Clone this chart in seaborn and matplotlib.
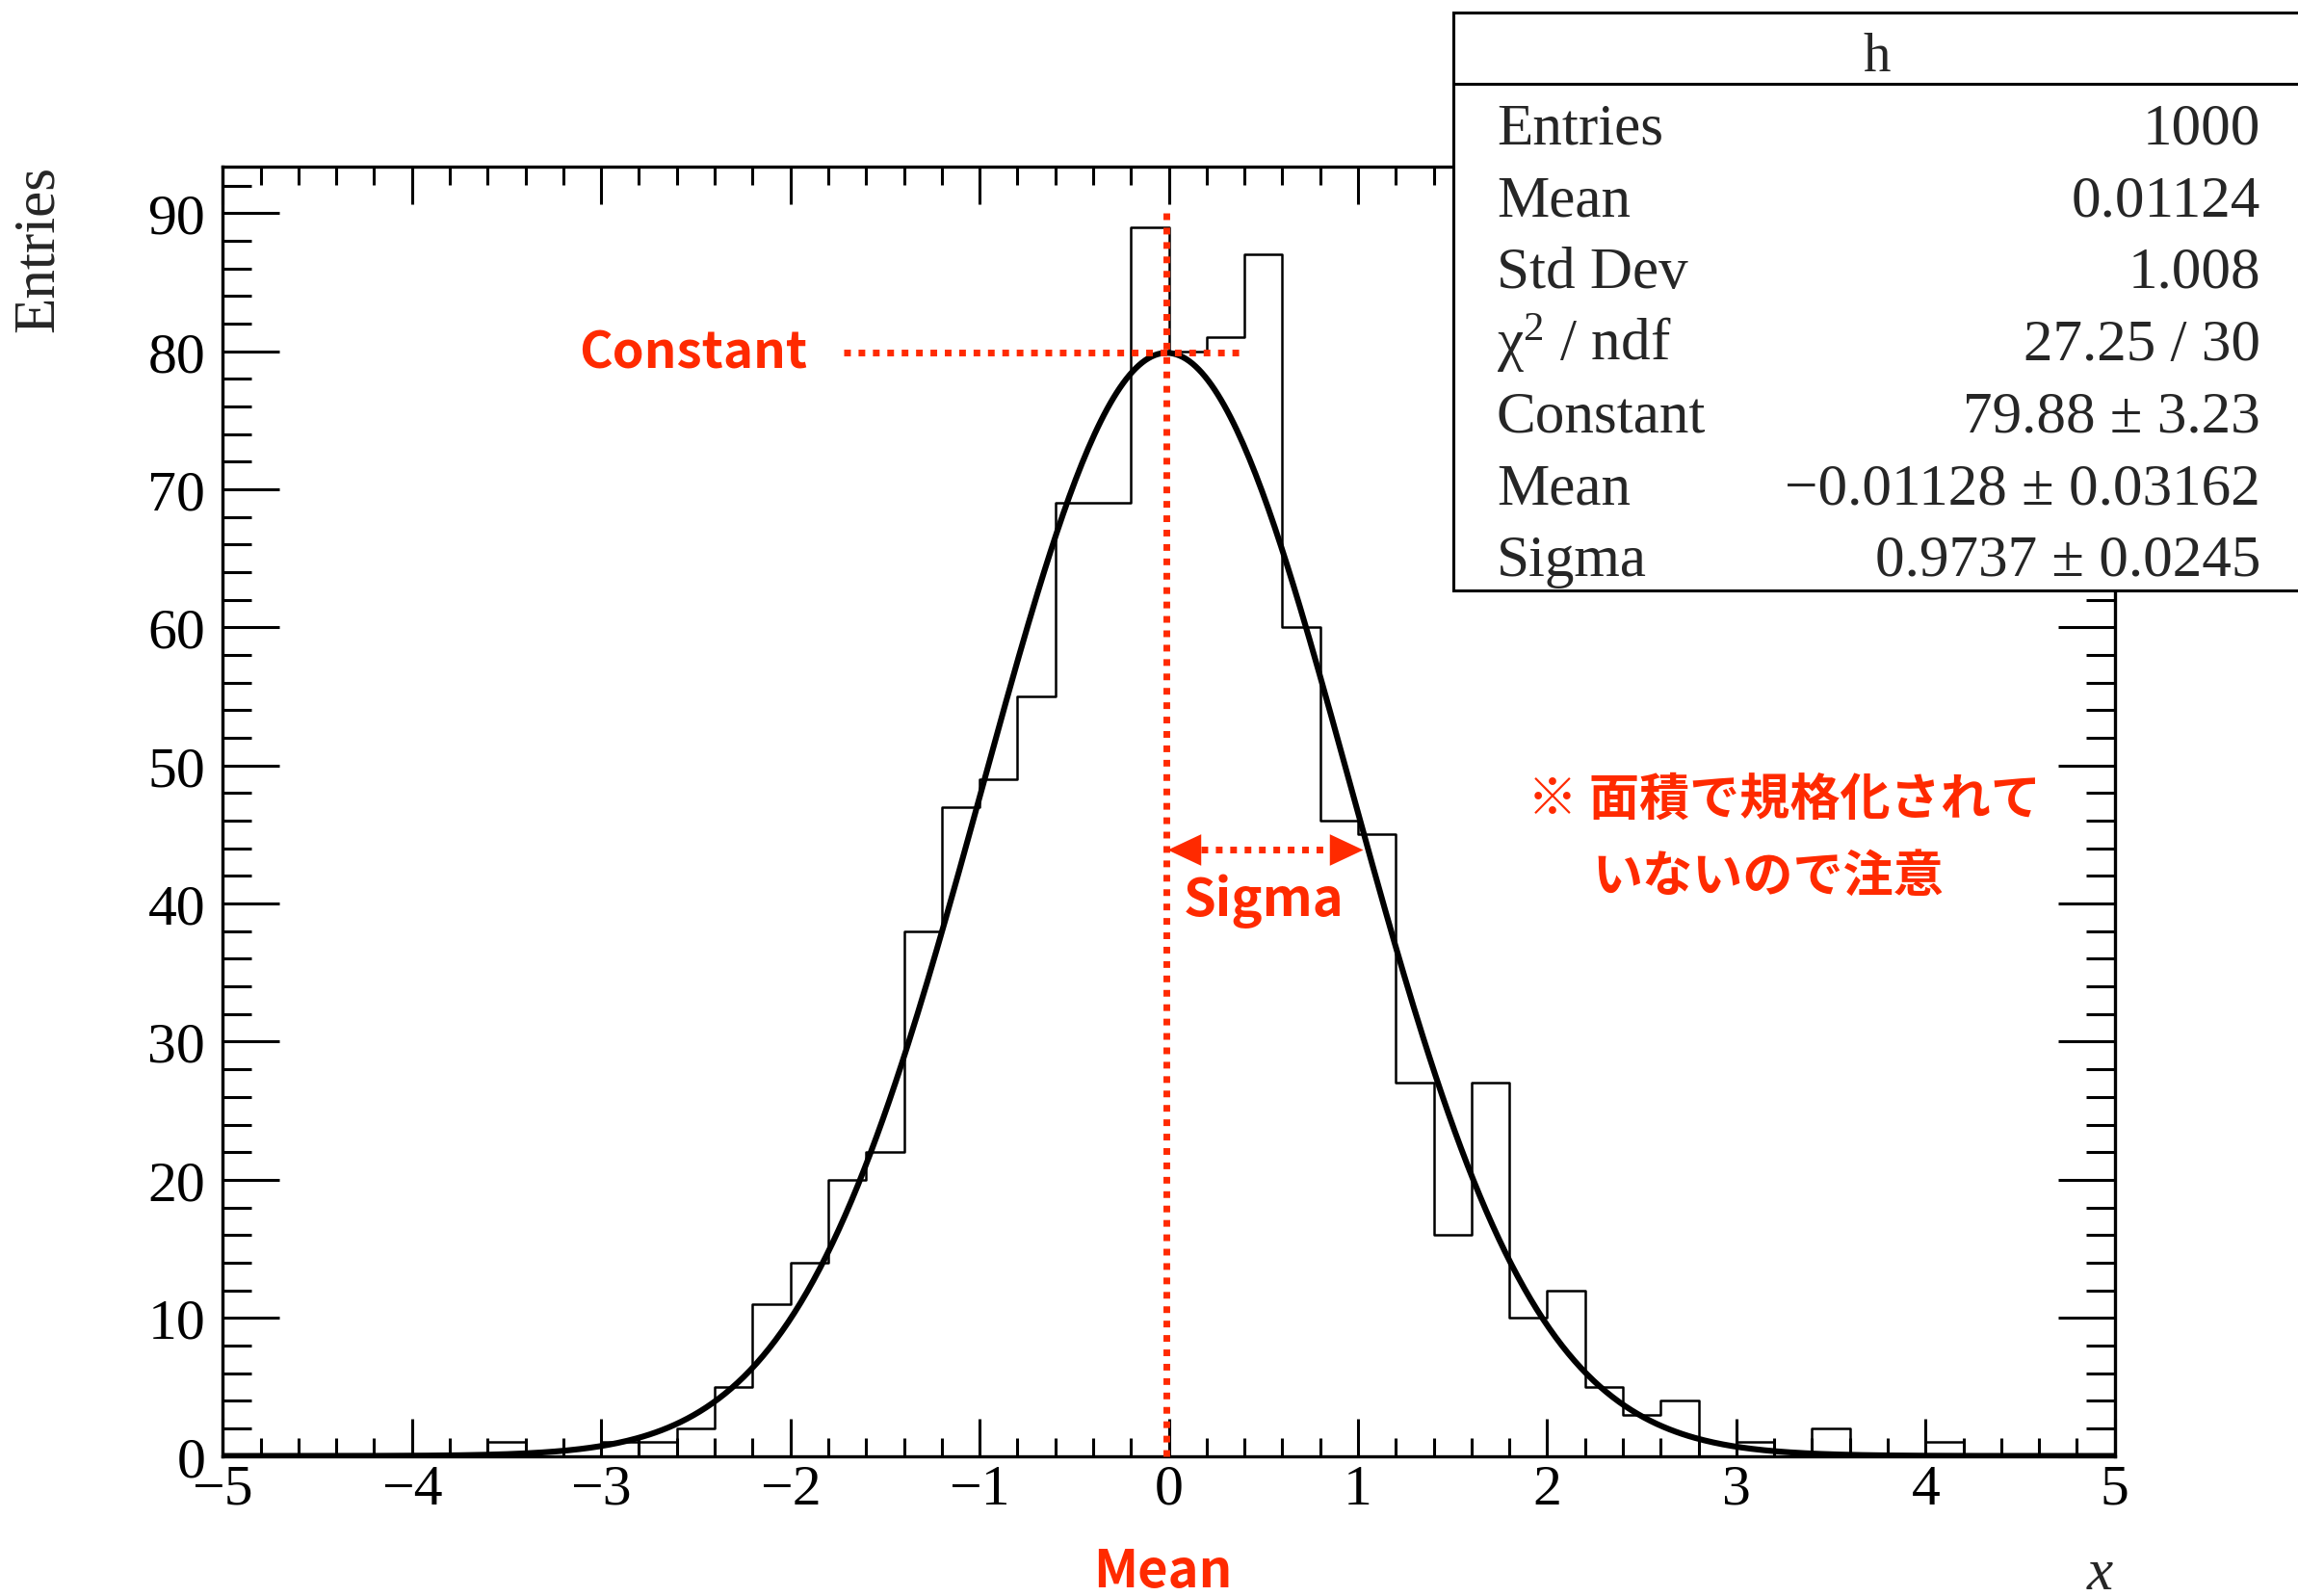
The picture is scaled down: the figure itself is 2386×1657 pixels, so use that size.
import numpy as np
import pandas as pd
import matplotlib
matplotlib.use("Agg")
import matplotlib.pyplot as plt
import seaborn as sns
from matplotlib.patches import Rectangle
from matplotlib.path import Path
from matplotlib.ticker import MultipleLocator

# ---- histogram contents (50 bins of width 0.2 on [-5, 5]) ----
bin_edges = [round(-5.0 + 0.2 * i, 1) for i in range(51)]
bin_counts = [0, 0, 0, 0, 0, 0, 0,      # -5.0 .. -3.8
              1, 0, 0, 1, 1, 2, 5,      # -3.6 .. -2.4
              11, 14, 20, 22, 38, 47, 49,  # -2.2 .. -1.0
              55, 69, 69, 89, 80, 81, 87,  # -0.8 .. 0.4
              60, 46, 45, 27, 16, 27, 10,  # 0.6 .. 1.8
              12, 5, 3, 4, 0, 1, 0,     # 2.0 .. 3.2
              2, 0, 0, 1, 0, 0, 0, 0]   # 3.4 .. 4.8

# ---- gaussian fit result ----
fit_constant = 79.88
fit_mean = -0.01128
fit_sigma = 0.9737

# ---- statistics box ----
box_title = "h"
stat_names = ["Entries", "Mean", "Std Dev", "χ$^{2}$ / ndf", "Constant", "Mean", "Sigma"]
stat_values = ["1000", "0.01124", "1.008", "27.25 / 30",
               "79.88 ± 3.23", "\u22120.01128 ± 0.03162", "0.9737 ± 0.0245"]

x_ticks = list(range(-5, 6))
y_ticks = list(range(0, 91, 10))

RED = "#ff2a00"
SERIF = "Liberation Serif"
JP = "Noto Sans CJK JP"

sns.set_theme(style="ticks")
plt.rcParams["font.family"] = [SERIF, "DejaVu Serif"]
plt.rcParams["axes.unicode_minus"] = True
plt.rcParams["mathtext.fontset"] = "custom"
plt.rcParams["mathtext.rm"] = SERIF
plt.rcParams["mathtext.it"] = SERIF + ":italic"
plt.rcParams["mathtext.bf"] = SERIF + ":bold"

W, H, DPI = 2386, 1658, 100
fig = plt.figure(figsize=(W / DPI, H / DPI), dpi=DPI, facecolor="white")
ax = fig.add_axes([0.09694, 0.08770, 0.82334, 0.80765])
ax.set_facecolor("white")

edges = np.array(bin_edges)
centers = (edges[:-1] + edges[1:]) / 2
hist_df = pd.DataFrame({"x": centers, "n": np.array(bin_counts, dtype=float)})
sns.histplot(data=hist_df, x="x", weights="n", bins=bin_edges, element="step",
             fill=False, color="black", linewidth=1.8, ax=ax)

xs = np.linspace(-5, 5, 600)
fit_df = pd.DataFrame({"x": xs,
                       "y": fit_constant * np.exp(-0.5 * ((xs - fit_mean) / fit_sigma) ** 2)})
sns.lineplot(data=fit_df, x="x", y="y", color="black", linewidth=4.4, ax=ax,
             zorder=4, sort=False)

ax.set_xlim(-5, 5)
ax.set_ylim(0, 93.4)
ax.set_xlabel("")
ax.set_ylabel("")

# axis frame and ticks
for s in ax.spines.values():
    s.set_linewidth(2.4)
    s.set_color("black")
ax.xaxis.set_major_locator(MultipleLocator(1))
ax.xaxis.set_minor_locator(MultipleLocator(0.2))
ax.yaxis.set_major_locator(MultipleLocator(10))
ax.yaxis.set_minor_locator(MultipleLocator(2))
ax.set_xticks(x_ticks)
ax.set_yticks(y_ticks)
ax.tick_params(which="both", direction="in", top=True, right=True,
               color="black", width=2.2, labelsize=43, labelcolor="black")
ax.tick_params(axis="x", which="major", length=28, pad=6)
ax.tick_params(axis="x", which="minor", length=14)
ax.tick_params(axis="y", which="major", length=42.5, pad=13)
ax.tick_params(axis="y", which="minor", length=21.6)
for lab in ax.get_xticklabels() + ax.get_yticklabels():
    lab.set_fontfamily(SERIF)

# axis titles
fig.text(40 / W, 1 - 172 / H, "Entries", rotation=90, ha="center", va="top",
         fontsize=44, family=SERIF)
ax.text(4.99, -9.6, "x", ha="right", va="baseline", fontsize=44,
        family=SERIF, style="italic", clip_on=False)

# red annotations: mean line, constant line, sigma arrow
dot = dict(color=RED, linewidth=5.0, linestyle=(0, (1, 1.15)),
           dash_capstyle="butt", zorder=6, clip_on=False)
ax.plot([fit_mean, fit_mean], [0, 90.3], **dot)
ax.plot([-1.72, 0.41], [fit_constant, fit_constant], **dot)

arrow_y = 43.9
arrow_x0, arrow_x1 = -0.01, 1.025
head_len = 0.178
ax.plot([arrow_x0 + head_len, arrow_x1 - head_len], [arrow_y, arrow_y], **dot)
left_head = Path([(0, 0), (1, 0.47), (1, -0.47), (0, 0)],
                 [Path.MOVETO, Path.LINETO, Path.LINETO, Path.CLOSEPOLY])
right_head = Path([(0, 0), (-1, 0.47), (-1, -0.47), (0, 0)],
                  [Path.MOVETO, Path.LINETO, Path.LINETO, Path.CLOSEPOLY])
ax.plot([arrow_x0], [arrow_y], marker=left_head, markersize=50, color=RED,
        markeredgewidth=0, linestyle="none", zorder=7)
ax.plot([arrow_x1], [arrow_y], marker=right_head, markersize=50, color=RED,
        markeredgewidth=0, linestyle="none", zorder=7)

red_txt = dict(color=RED, family=[JP, "DejaVu Sans"], fontweight="bold", clip_on=False, zorder=8)
ax.text(-1.912, 78.8, "Constant", ha="right", va="baseline", fontsize=38, **red_txt)
ax.text(0.50, 39.2, "Sigma", ha="center", va="baseline", fontsize=39, **red_txt)
ax.text(-0.033, -9.44, "Mean", ha="center", va="baseline", fontsize=39, **red_txt)
ax.text(1.896, 47.6, "※ 面積で規格化されて", ha="left", va="center", fontsize=37.5, **red_txt)
ax.text(2.237, 42.0, "いないので注意", ha="left", va="center", fontsize=37.5, **red_txt)

# statistics box
bx0, bx1 = 1508.5 / W, 1.01
by_top, by_bot = 1 - 14 / H, 1 - 614 / H
fig.add_artist(Rectangle((bx0, by_bot), bx1 - bx0, by_top - by_bot,
                         transform=fig.transFigure, facecolor="white",
                         edgecolor="black", linewidth=2.2, zorder=10))
fig.add_artist(plt.Line2D([bx0, bx1], [1 - 87.5 / H, 1 - 87.5 / H],
                          transform=fig.transFigure, color="black",
                          linewidth=2.2, zorder=11))
fig.text(1949 / W, 1 - 74 / H, box_title, ha="center", va="baseline",
         fontsize=41, family=SERIF, zorder=12)
baselines = np.linspace(149.4, 598, len(stat_names))
for name, val, b in zip(stat_names, stat_values, baselines):
    fig.text(1554 / W, 1 - b / H, name, ha="left", va="baseline",
             fontsize=44, family=SERIF, zorder=12)
    fig.text(2347 / W, 1 - b / H, val, ha="right", va="baseline",
             fontsize=44, family=SERIF, zorder=12)

fig.savefig("out.png", dpi=DPI, facecolor="white")
